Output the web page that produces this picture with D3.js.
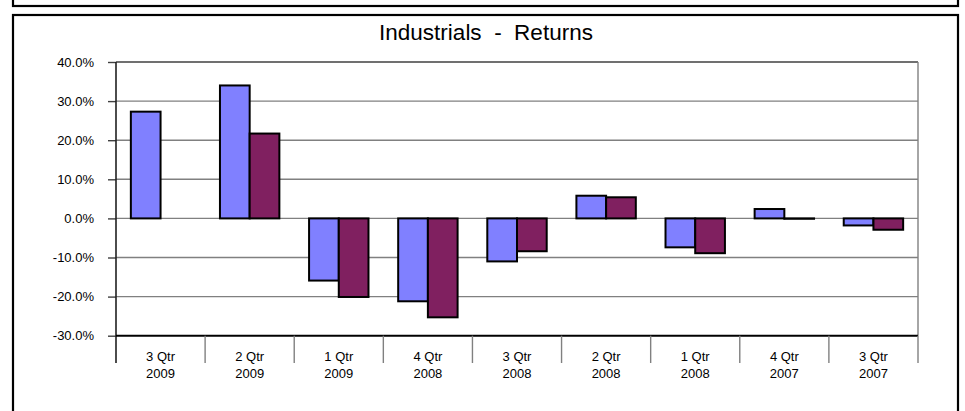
<!DOCTYPE html>
<html>
<head>
<meta charset="utf-8">
<script src="https://cdn.jsdelivr.net/npm/d3@7"></script>
<style>
  html, body { margin: 0; padding: 0; background: #fff; }
  svg { display: block; }
  text { font-family: "Liberation Sans", Arial, sans-serif; fill: #000; }
</style>
</head>
<body>
<svg id="chart" width="965" height="411"></svg>
<script>
const title = "Industrials  -  Returns";
const quarters = ["3 Qtr", "2 Qtr", "1 Qtr", "4 Qtr", "3 Qtr", "2 Qtr", "1 Qtr", "4 Qtr", "3 Qtr"];
const years = ["2009", "2009", "2009", "2008", "2008", "2008", "2008", "2007", "2007"];
const seriesNames = ["Series A", "Series B"];
const seriesA = [27.3, 34.0, -15.9, -21.2, -11.0, 5.8, -7.4, 2.4, -1.8];
const seriesB = [null, 21.7, -20.1, -25.3, -8.4, 5.4, -8.9, -0.1, -2.9];
const yTicks = [-30, -20, -10, 0, 10, 20, 30, 40];
const colors = ["#8080FF", "#802060"];

(function () {
const svg = d3.select("#chart");

// outer frames
svg.append("rect").attr("x", 13).attr("y", -20).attr("width", 945).attr("height", 26)
  .attr("fill", "none").attr("stroke", "#000").attr("stroke-width", 2.2);
svg.append("rect").attr("x", 13).attr("y", 15).attr("width", 945).attr("height", 420)
  .attr("fill", "none").attr("stroke", "#000").attr("stroke-width", 2.2);

const pLeft = 116, pRight = 918, pTop = 62, pBottom = 335.7;
const idx = d3.range(quarters.length);
const x = d3.scaleBand().domain(idx).range([pLeft, pRight]).padding(0);
const xs = d3.scaleBand().domain([0, 1]).range([0, x.bandwidth()]).paddingInner(0).paddingOuter(0.5);
const y = d3.scaleLinear().domain([-30, 40]).range([pBottom, pTop]);

// gridlines
svg.append("g").selectAll("line").data(yTicks.filter(t => t > -30 && t < 40)).join("line")
  .attr("x1", pLeft).attr("x2", pRight)
  .attr("y1", d => y(d)).attr("y2", d => y(d))
  .attr("stroke", "#808080").attr("stroke-width", 1.4);
// top border of plot
svg.append("line").attr("x1", pLeft).attr("x2", pRight).attr("y1", y(40)).attr("y2", y(40))
  .attr("stroke", "#404040").attr("stroke-width", 1.4);
// right border
svg.append("line").attr("x1", pRight).attr("x2", pRight).attr("y1", y(40)).attr("y2", pBottom)
  .attr("stroke", "#808080").attr("stroke-width", 1.4);

// bars
const series = [seriesA, seriesB];
series.forEach((vals, s) => {
  svg.append("g").selectAll("rect")
    .data(idx.filter(i => vals[i] !== null))
    .join("rect")
    .attr("x", i => x(i) + xs(s))
    .attr("width", xs.bandwidth())
    .attr("y", i => y(Math.max(0, vals[i])))
    .attr("height", i => Math.abs(y(vals[i]) - y(0)))
    .attr("fill", colors[s])
    .attr("stroke", "#000").attr("stroke-width", 2);
});

// y axis
const yAxis = d3.axisLeft(y).tickValues(yTicks).tickSize(8).tickPadding(14)
  .tickFormat(d => d.toFixed(1) + "%");
const gy = svg.append("g").attr("transform", `translate(${pLeft},0)`).call(yAxis);
gy.select(".domain").remove();
gy.selectAll(".tick line").attr("stroke", "#404040").attr("stroke-width", 1.4);
gy.selectAll(".tick text").attr("font-size", 13).attr("fill", "#000")
  .style("font-family", '"Liberation Sans", Arial, sans-serif');
svg.append("line").attr("x1", pLeft).attr("x2", pLeft).attr("y1", pTop).attr("y2", 363)
  .attr("stroke", "#202020").attr("stroke-width", 1.6);

// x axis line
svg.append("line").attr("x1", pLeft).attr("x2", pRight).attr("y1", pBottom).attr("y2", pBottom)
  .attr("stroke", "#000").attr("stroke-width", 2);
// category separators
svg.append("g").selectAll("line").data(idx.slice(1).concat([idx.length])).join("line")
  .attr("x1", i => i < idx.length ? x(i) : pRight)
  .attr("x2", i => i < idx.length ? x(i) : pRight)
  .attr("y1", pBottom).attr("y2", 363)
  .attr("stroke", "#808080").attr("stroke-width", 1.4);

// category labels
const lab = svg.append("g").selectAll("text").data(idx).join("text")
  .attr("text-anchor", "middle").attr("font-size", 13);
lab.append("tspan").attr("x", i => x(i) + x.bandwidth() / 2).attr("y", 361).text(i => quarters[i]);
lab.append("tspan").attr("x", i => x(i) + x.bandwidth() / 2).attr("y", 378).text(i => years[i]);

// title
svg.append("text").attr("x", 486).attr("y", 40).attr("text-anchor", "middle")
  .attr("font-size", 22.5).style("white-space", "pre").attr("xml:space", "preserve").text(title);
})();
</script>
</body>
</html>
